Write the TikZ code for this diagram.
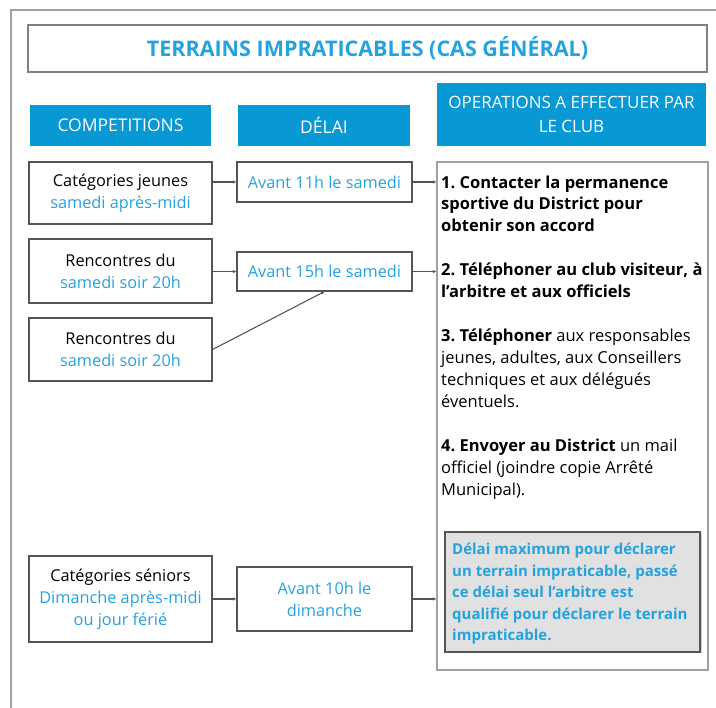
\documentclass[tikz,border=0pt]{standalone}
\usepackage{fontspec}
\setmainfont{Open Sans}
\usetikzlibrary{arrows.meta,shadows}
\frenchspacing

\definecolor{headblue}{RGB}{8,152,212}
\definecolor{txtblue}{RGB}{36,162,224}
\definecolor{linegray}{RGB}{85,85,85}
\definecolor{framegray}{RGB}{160,160,160}
\definecolor{notegray}{RGB}{225,225,225}

\begin{document}
\begin{tikzpicture}[
      x=1pt, y=-1pt,
      every node/.style={align=center, font=\fontsize{16.3}{22}\selectfont},
      box/.style={draw=linegray, line width=1.1pt, inner sep=2pt},
      head/.style={fill=headblue, text=white, font=\fontsize{17.5}{24}\selectfont},
      cat/.style={box, minimum width=183pt},
      delai/.style={box, minimum width=175pt, text=txtblue},
      link/.style={draw=linegray, line width=1.1pt, -{Latex[length=3.5pt,width=3.5pt]}}
    ]
\useasboundingbox (0,0) rectangle (716,708);
\draw[framegray, line width=1.2pt] (11,708) |- (716,10);

% Nodes
      \node[box, draw=gray, minimum width=679pt, minimum height=47pt, text=txtblue,
        font=\fontsize{21.5}{24}\bfseries] (title) at (367.5,48.5)
        {TERRAINS IMPRATICABLES (CAS GÉNÉRAL)};

      \node[head, minimum width=181pt, minimum height=41pt] (hcomp) at (120.5,125.5) {COMPETITIONS};
      \node[head, minimum width=172pt, minimum height=41pt] (hdelai) at (324,125.5) {DÉLAI};
      \node[head, minimum width=269pt, minimum height=63pt, font=\fontsize{17}{24}\selectfont] (hops) at (571.5,114.5)
        {OPERATIONS A EFFECTUER PAR\\LE CLUB};

      \node[cat, minimum height=62pt] (jeunes) at (120.5,193)
        {Catégories jeunes\\\textcolor{txtblue}{samedi après-midi}};
      \node[cat, minimum height=64pt] (renc1) at (120.5,271)
        {Rencontres du\\\textcolor{txtblue}{samedi soir 20h}};
      \node[cat, minimum height=63pt] (renc2) at (120.5,349.5)
        {Rencontres du\\\textcolor{txtblue}{samedi soir 20h}};
      \node[cat, minimum height=86pt] (seniors) at (120.5,599)
        {Catégories séniors\\\textcolor{txtblue}{Dimanche après-midi}\\\textcolor{txtblue}{ou jour férié}};

      \node[delai, minimum height=40pt] (d11) at (324.5,182) {Avant 11h le samedi};
      \node[delai, minimum height=39pt] (d15) at (324.5,271.5) {Avant 15h le samedi};
      \node[delai, minimum height=64pt] (d10) at (324.5,599) {Avant 10h le\\dimanche};

      \node[draw=framegray, line width=1.1pt, minimum width=271pt, minimum height=508pt] (ops) at (572.5,416) {};
      \node[anchor=base west, align=left, inner sep=0pt, font=\fontsize{16.5}{22}\selectfont] (steps) at (441,496)
        {\textbf{1. Contacter la permanence}\\
         \textbf{sportive du District pour}\\
         \textbf{obtenir son accord}\\[22pt]
         \textbf{2. Téléphoner au club visiteur, à}\\
         \textbf{l'arbitre et aux officiels}\\[22pt]
         \textbf{3. Téléphoner} aux responsables\\
         jeunes, adultes, aux Conseillers\\
         techniques et aux délégués\\
         éventuels.\\[22pt]
         \textbf{4. Envoyer au District} un mail\\
         officiel (joindre copie Arrêté\\
         Municipal).};
      \node[draw=linegray, fill=notegray, line width=1.1pt, minimum width=255pt, minimum height=120pt,
        drop shadow={shadow xshift=1.5pt, shadow yshift=-1.5pt, opacity=0.4}] (note) at (572.5,592) {};
      \node[anchor=base west, align=left, inner sep=0pt, text=txtblue,
        font=\fontsize{15}{21.5}\bfseries] (notetxt) at (452,641)
        {Délai maximum pour déclarer\\
         un terrain impraticable, passé\\
         ce délai seul l'arbitre est\\
         qualifié pour déclarer le terrain\\
         impraticable.};

% Connections
      \draw[link] (d11.west -| jeunes.east) -- (d11.west);
      \draw[link] (d11.east) -- (d11.east -| ops.west);
      \draw[link] (d15.west -| renc1.east) -- (d15.west);
      \draw[link] (d15.east) -- (d15.east -| ops.west);
      \draw[link] (renc2.east) -- (d15.south);
      \draw[link] (seniors.east) -- (d10.west);
      \draw[link] (d10.east) -- (d10.east -| ops.west);

    \end{tikzpicture}
\end{document}
